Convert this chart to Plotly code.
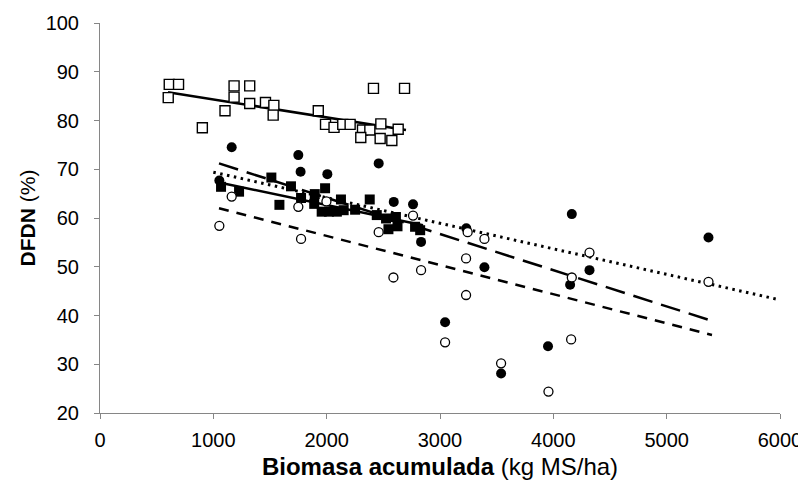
import plotly.graph_objects as go

# Open squares
sq_open_x = [611, 693, 602, 903, 1103, 1183, 1183, 1321, 1321, 1460, 1534, 1528, 1926, 1990, 2065, 2142,
             2207, 2316, 2381, 2301, 2478, 2472, 2575, 2631, 2413, 2687]
sq_open_y = [87.4, 87.4, 84.7, 78.5, 82.0, 87.1, 84.8, 87.1, 83.5, 83.7, 83.1, 81.1, 82.0, 79.2, 78.6, 79.2,
             79.2, 78.05, 78.05, 76.5, 79.3, 76.3, 75.9, 78.2, 86.6, 86.6]

# Filled squares
sq_fill_x = [1068, 1227, 1512, 1685, 1583, 1774, 1895, 1986, 1890, 1956, 2020, 2090, 2126, 2150, 2251,
             2380, 2442, 2524, 2611, 2545, 2625, 2780, 2825]
sq_fill_y = [66.4, 65.4, 68.3, 66.5, 62.7, 64.1, 64.9, 66.1, 62.9, 61.3, 61.3, 61.3, 63.8, 61.6, 61.7,
             63.8, 60.6, 59.9, 60.2, 57.7, 58.3, 58.2, 57.5]

# Filled circles
ci_fill_x = [1053, 1162, 1750, 1770, 2006, 2459, 2592, 2762, 2833, 3232, 3392, 3045, 4163, 4148, 4319,
             3539, 3953, 5369]
ci_fill_y = [67.7, 74.5, 72.9, 69.5, 69.0, 71.2, 63.3, 62.8, 55.1, 57.9, 49.9, 38.6, 60.8, 46.3, 49.3,
             28.1, 33.7, 56.0]

# Open circles
ci_open_x = [1053, 1162, 1750, 1774, 1998, 2459, 2762, 2589, 2833, 3244, 3392, 3230, 3230, 3045, 3539,
             3957, 4157, 4163, 4319, 5369]
ci_open_y = [58.4, 64.4, 62.3, 55.7, 63.4, 57.1, 60.5, 47.8, 49.3, 57.1, 55.7, 51.7, 44.2, 34.5, 30.2,
             24.4, 35.1, 47.8, 52.9, 46.9]

# Trend lines (endpoints)
trend_sq_open_x = [600, 2700]
trend_sq_open_y = [85.8, 78.05]
trend_sq_fill_x = [1030, 2850]
trend_sq_fill_y = [67.4, 58.5]
trend_longdash_x = [1050, 5400]
trend_longdash_y = [71.2, 38.9]
trend_dot_x = [1000, 6000]
trend_dot_y = [69.4, 43.2]
trend_shortdash_x = [1050, 5400]
trend_shortdash_y = [62.0, 36.0]

x_ticks = [0, 1000, 2000, 3000, 4000, 5000, 6000]
y_ticks = [20, 30, 40, 50, 60, 70, 80, 90, 100]

fig = go.Figure()

lw = 2.5
fig.add_trace(go.Scatter(x=trend_sq_open_x, y=trend_sq_open_y, mode="lines",
                         line=dict(color="black", width=lw)))
fig.add_trace(go.Scatter(x=trend_sq_fill_x, y=trend_sq_fill_y, mode="lines",
                         line=dict(color="black", width=lw)))
fig.add_trace(go.Scatter(x=trend_longdash_x, y=trend_longdash_y, mode="lines",
                         line=dict(color="black", width=lw, dash="20px,9px")))
fig.add_trace(go.Scatter(x=trend_dot_x, y=trend_dot_y, mode="lines",
                         line=dict(color="black", width=3, dash="2.5px,4.5px")))
fig.add_trace(go.Scatter(x=trend_shortdash_x, y=trend_shortdash_y, mode="lines",
                         line=dict(color="black", width=lw, dash="10px,8px")))

fig.add_trace(go.Scatter(x=sq_open_x, y=sq_open_y, mode="markers",
                         marker=dict(symbol="square", size=10, color="white",
                                     line=dict(color="black", width=1.4))))
fig.add_trace(go.Scatter(x=sq_fill_x, y=sq_fill_y, mode="markers",
                         marker=dict(symbol="square", size=10, color="black",
                                     line=dict(color="black", width=0))))
fig.add_trace(go.Scatter(x=ci_fill_x, y=ci_fill_y, mode="markers",
                         marker=dict(symbol="circle", size=10, color="black",
                                     line=dict(color="black", width=0))))
fig.add_trace(go.Scatter(x=ci_open_x, y=ci_open_y, mode="markers",
                         marker=dict(symbol="circle", size=9, color="white",
                                     line=dict(color="black", width=1.3))))

axis_font = dict(family="Liberation Sans, Arial", size=20, color="black")
xtitle_font = dict(family="Liberation Sans, Arial", size=24, color="black")
ytitle_font = dict(family="Liberation Sans, Arial", size=21, color="black")
fig.update_layout(
    width=798, height=472,
    margin=dict(l=92, r=26, t=15, b=67),
    paper_bgcolor="white", plot_bgcolor="white",
    showlegend=False,
    font=axis_font,
    xaxis=dict(range=[0, 6000], tickvals=x_ticks, ticks="outside", ticklen=5,
               tickcolor="#868686", showline=True, linecolor="#868686", linewidth=1,
               showgrid=False, zeroline=False, tickfont=axis_font, automargin=False,
               ticklabelstandoff=4, ticklabeloverflow="allow",
               title=dict(text="<b>Biomasa acumulada</b> (kg MS/ha)", font=xtitle_font,
                          standoff=10)),
    yaxis=dict(range=[20, 100], tickvals=y_ticks, ticks="outside", ticklen=5,
               tickcolor="#868686", showline=True, linecolor="#868686", linewidth=1,
               showgrid=False, zeroline=False, tickfont=axis_font, automargin=False,
               ticklabelstandoff=11,
               title=dict(text="<b>DFDN</b> (%)", font=ytitle_font, standoff=4)),
)

fig.write_html("out.html")
